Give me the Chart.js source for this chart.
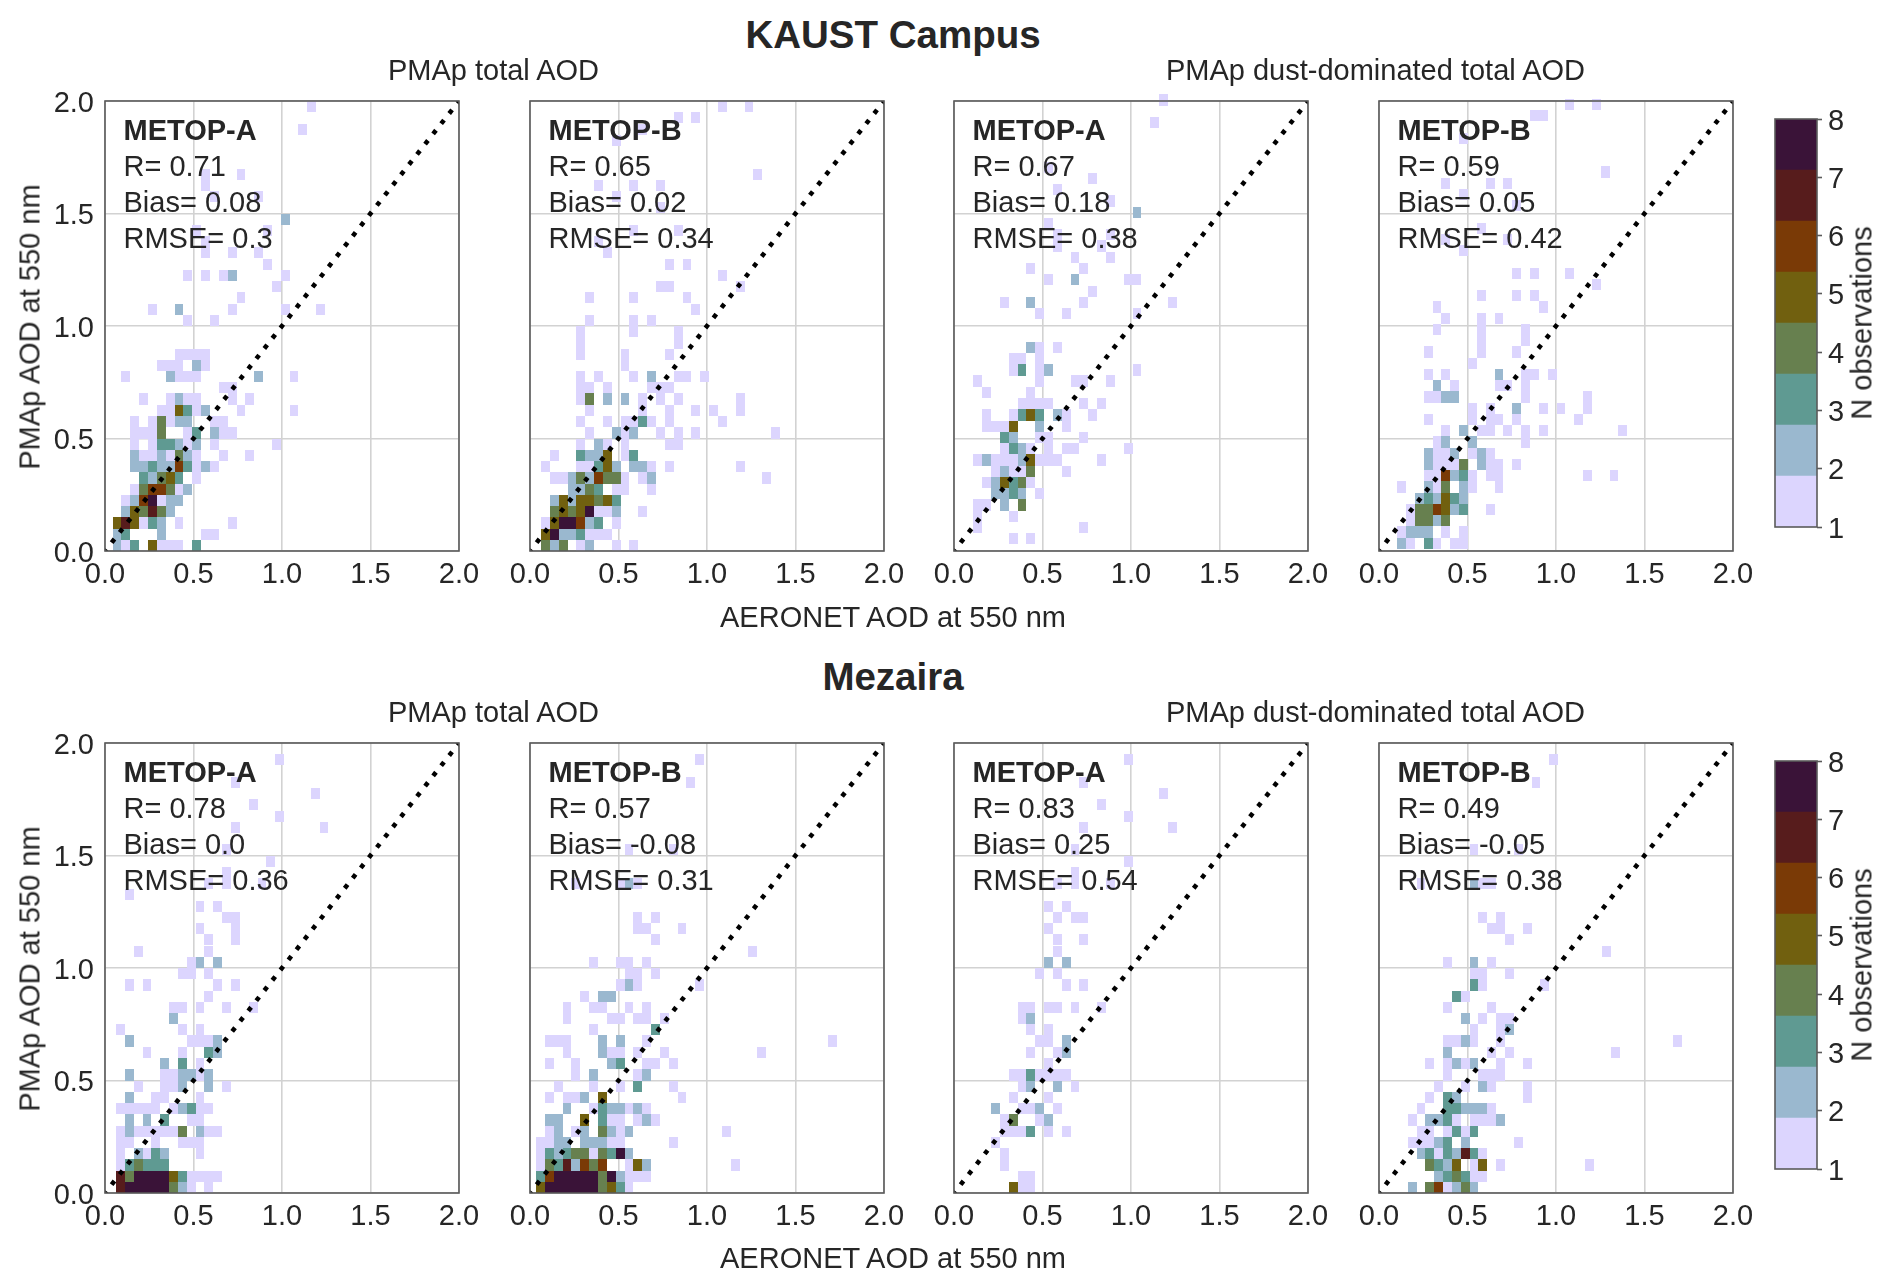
<!DOCTYPE html>
<html><head><meta charset="utf-8">
<script src="https://cdn.jsdelivr.net/npm/chart.js@4"></script>
<style>
html,body{margin:0;padding:0;background:#fff;width:1892px;height:1287px;overflow:hidden}
canvas{position:absolute}
.t{position:absolute;white-space:nowrap;color:#262626;font-family:"Liberation Sans",Arial,sans-serif;line-height:1}
</style></head><body>
<script>
// Histogram rows: array index = row (bottom to top), each row = column,count,column,count...
const kaustTotalA=[[0,2,1,1,2,3,4,5,5,1,6,1,7,1,9,3],[0,2,1,3,5,2,10,1,11,1],[0,5,1,7,2,5,3,1,4,3,5,2,7,1,13,1],[1,2,2,5,3,4,4,7,5,4,6,2],[1,1,2,2,3,6,4,8,5,1,6,2,7,2],[2,1,3,4,4,6,5,6,6,4,7,1,8,2],[3,3,4,2,5,4,6,5,7,3,9,1],[2,2,3,2,4,3,5,2,6,2,7,6,8,3,9,1,10,2,11,1],[2,2,3,1,4,1,5,2,6,1,7,4,8,2,9,1,12,1,15,1],[2,1,4,1,5,3,6,3,7,2,8,1,9,2,11,1,18,1],[2,1,3,1,4,1,5,4,8,1,9,3,11,2,12,1,13,1],[2,1,4,1,5,4,6,1,7,2,8,2,11,1,12,1],[5,1,6,1,7,5,8,3,9,1,10,2,14,1,20,1],[3,1,6,1,7,2,8,1,9,1,13,1,15,1],[12,1,13,1],[1,1,6,2,7,1,8,1,9,1,16,2,20,1],[5,1,6,1,7,1,9,2,10,1],[7,1,8,1,9,1,10,1],[],[],[8,1,11,1],[4,1,7,2,13,1,19,1,23,1],[14,1],[18,1],[8,1,10,1,12,1,13,2,19,1],[17,1],[10,1,13,1,16,1],[10,1],[9,1,17,1],[19,2],[],[11,1,16,1],[10,1],[10,1,14,1],[],[],[],[21,1],[],[22,1]];
const kaustTotalB=[[0,4,1,2,2,4,4,1,5,2,8,1,10,1],[0,5,1,8,2,2,3,2,4,3,5,1,6,1,7,1],[0,1,1,5,2,8,3,8,4,6,5,2,6,3,8,1],[1,4,2,5,3,4,4,5,5,8,6,1,7,1,8,2,11,1],[1,2,2,5,3,2,4,5,5,5,6,4,7,5,8,3],[3,2,4,2,5,4,6,3,8,1,9,1,12,1],[1,1,2,1,3,2,4,4,5,2,6,6,7,4,8,4,9,1,11,1,12,2,25,1],[0,1,4,1,5,1,6,3,7,5,8,2,10,2,11,2,12,1,14,1,22,1],[1,1,4,3,5,2,6,2,7,5,9,1,10,3],[4,1,6,2,7,1,9,1,14,1,15,1],[5,1,8,2,9,1,10,2,13,1,15,1,17,1,26,1],[4,1,7,1,9,1,10,1,11,3,12,1,14,1,20,1],[5,1,11,1,14,1,17,1,19,1,22,1],[4,1,5,4,7,2,9,2,11,1,13,1,15,1,22,1],[4,1,5,1,7,1,12,1,13,1,14,1],[4,1,6,1,10,1,12,2,15,1,16,1,18,1],[9,1],[4,1,9,1,14,1],[4,1,15,1],[4,1,10,1,15,1],[5,1,10,1,12,1],[17,1],[5,1,10,1,16,1],[13,1,14,1,22,1],[20,1],[14,1,16,1],[7,1],[6,1],[10,1,15,1],[],[13,1],[8,1],[6,1,10,1,13,1],[24,1],[],[],[8,1],[11,1],[15,1,17,1],[20,1,23,1]];
const kaustDustA=[[4,1,6,1],[0,1,12,1],[0,1,4,1],[0,1,1,1,3,2,5,4],[2,2,3,2,4,3,5,2,7,1],[1,1,2,2,3,5,4,3,5,4,6,1],[2,1,3,2,4,1,5,1,6,4,10,1],[0,1,1,2,2,1,3,1,4,1,5,2,6,5,7,1,8,1,9,1,14,1],[3,1,4,3,5,2,6,1,8,1,10,1,11,1,17,1],[3,3,4,2,7,1,8,1,12,1],[1,1,2,1,3,1,4,5,7,2,10,1],[1,1,4,1,5,3,6,5,7,3,9,2,10,1,13,1],[5,1,6,1,7,1,8,1,12,1,14,1],[1,1,6,1],[0,1,7,1,11,1,12,1,15,1],[4,1,5,3,7,1,8,2,18,1],[4,1,5,1,7,1],[6,2,7,1,9,1],[],[],[7,1,10,1,18,1],[3,1,6,2,12,1,22,1],[13,1],[8,1,11,2,17,1,18,1],[6,1,12,1],[11,1,15,1],[9,1,14,1],[9,1,15,1],[8,1],[18,2],[15,1],[9,1],[13,1],[8,1],[],[],[],[20,1],[],[21,1]];
const kaustDustB=[[0,2,1,1,3,3,4,1,6,1,7,1],[0,1,1,2,2,2,3,2,5,1,7,1],[1,1,2,4,3,4,4,2,5,4],[1,1,2,4,3,4,4,6,5,5,6,2,7,3,10,1],[2,2,3,3,4,2,5,5,6,3,7,2],[0,1,3,2,4,1,5,4,7,2,8,1,11,1],[3,1,4,1,5,6,6,2,7,3,8,1,10,1,11,1,21,1,24,1],[3,2,4,1,5,1,6,1,7,4,9,2,10,1,11,1,13,1],[3,2,4,1,5,1,6,2,8,1,9,2,10,1],[4,1,5,2,8,2,14,1],[5,1,7,2,9,1,10,1,12,1,14,1,16,1,25,1],[3,1,8,1,10,1,11,1,13,1,20,1],[8,1,10,1,13,2,16,1,18,1,21,1],[3,1,4,1,5,2,6,2,14,1,21,1],[4,2,6,1,11,1,12,1,14,1],[3,1,5,1,11,2,14,1,15,1,17,1],[8,1],[3,1,9,1,13,1],[9,1,14,1],[4,1,9,1,14,1],[5,1,9,1,11,1],[4,1,16,1],[9,1,13,1,15,1],[22,1],[13,1,15,1,19,1],[],[7,1],[5,1,12,1],[9,1],[],[13,1],[7,1],[5,1,10,1,12,1],[23,1],[],[],[7,1],[],[15,1,16,1],[19,1,22,1]];
const mezairaTotalA=[[0,7,1,8,2,8,3,8,4,8,5,8,6,4,7,2,8,1,10,1],[0,7,1,4,2,8,3,8,4,8,5,8,6,5,7,3,8,1,9,1,10,1,11,1],[0,1,1,3,2,4,3,3,4,3,5,3],[0,1,2,2,3,1,4,3,5,2,9,1],[0,1,1,1,4,1,7,1,8,1,9,1],[0,1,1,2,2,1,3,1,4,1,5,1,6,1,7,4,9,2,10,1,11,1],[1,2,3,2,5,3,8,1,9,1],[0,1,1,1,2,1,3,1,4,1,6,1,7,2,8,3,9,1,10,1],[1,2,4,1,5,1,9,1],[2,1,5,1,6,1,7,2,10,2,12,1],[1,2,5,1,6,1,7,2,8,2,9,1,10,2],[5,2,7,3,9,1],[3,1,7,1,10,3,11,2],[1,2,8,1,9,1,10,1,11,2],[0,1,7,1,9,1],[6,2],[6,1,7,1,9,1,12,1,15,1],[10,1],[1,1,3,1,11,1,13,1],[7,1,8,1,10,1],[8,1,9,2,11,2],[2,1,10,1],[10,1,13,1],[9,1,13,1],[12,1,13,1],[9,1,11,1],[1,1],[10,1,12,1,16,1],[12,1],[17,1],[12,1],[],[13,1,23,1],[18,1],[15,1],[22,1],[13,1],[],[18,1]];
const mezairaTotalB=[[0,5,1,8,2,8,3,8,4,8,5,8,6,8,7,4,8,5,9,3,10,1],[0,3,1,6,2,8,3,8,4,8,5,8,6,8,7,4,8,8,9,2,10,1,11,1,12,1],[0,1,1,4,2,3,3,7,4,2,5,6,6,4,7,6,10,1,11,5,12,2,22,1],[0,1,1,3,2,2,3,3,4,4,5,4,6,1,7,4,8,3,9,8,10,2],[0,1,1,1,2,2,3,2,5,2,6,2,7,2,8,1,9,1,15,1],[1,1,2,2,4,1,5,2,7,4,8,2,9,1,10,2,21,1],[1,2,2,2,5,5,7,3,8,1,9,1,11,1,12,2,13,1],[3,2,6,1,7,3,8,2,9,2,10,1,11,2,12,1],[1,1,3,1,4,1,5,2,7,5,16,1],[2,1,6,1,9,1,11,3,15,1],[4,1,6,2,11,1,12,2],[1,1,4,1,8,2,9,3,12,1,13,1,15,1],[3,1,7,2,8,1,9,1,11,1,14,1,25,1],[1,1,2,1,3,1,7,2,9,2,12,1,33,1],[6,1,13,3],[3,1,8,1,9,1,11,1,12,1,14,1],[3,1,6,1,7,1,10,1,12,1],[5,1,7,2,8,2],[9,1,10,2,11,1,18,1],[10,1,11,1,13,1],[6,1,9,1,10,1,12,1],[24,1],[13,1],[11,1,12,1,16,1],[11,1,13,1],[],[],[4,1,9,1,10,2,11,1],[],[],[10,1,15,1],[],[],[],[],[],[17,1],[],[18,1]];
const mezairaDustA=[[4,5,5,1,6,1],[5,1,6,1],[3,1],[3,1],[2,1],[3,1,4,1,5,1,6,3,8,1,10,1],[3,1,4,4,7,1,8,2],[2,2,5,1,6,1,7,2,9,1],[4,1,8,1],[5,1,6,2,9,2,11,1],[4,1,5,1,6,3,7,1,8,1,9,1,10,1],[8,1],[6,1,9,1,10,2],[7,1,8,1,10,2],[6,1,8,1],[5,1,6,2],[5,1,6,1,8,1,9,1,11,1,14,1],[],[10,1,12,1],[7,1,9,1],[8,2,10,2],[9,1],[9,1,12,1],[8,1],[9,1,11,1,12,1],[8,1,10,1],[],[9,1,11,1,15,1],[11,1],[17,1],[11,1],[],[12,1,22,1],[17,1],[14,1],[21,1],[12,1],[],[17,1]];
const mezairaDustB=[[0,2,2,4,3,6,4,1,5,2,6,4,7,2],[3,2,4,3,5,4,6,3,7,1,8,1],[2,4,3,3,4,2,5,5,7,1,8,5,10,1,20,1],[1,2,2,3,3,1,4,3,5,2,6,7,7,3,8,1],[0,1,1,1,2,1,3,2,4,3,6,2,12,1],[1,1,2,1,4,1,5,3,6,1,7,3],[0,1,2,2,3,2,4,3,5,1,7,1,8,1,9,1,10,2],[1,1,4,3,5,3,6,2,7,2,8,2,9,1],[2,1,4,3,5,2,13,1],[3,1,6,1,8,2,9,1,13,1],[4,1,8,1,9,1,10,1],[2,1,4,1,5,2,6,1,7,2,10,1,13,1],[4,2,9,1,11,1,23,1],[4,1,5,1,6,2,7,1,10,1,30,1],[7,1,10,1,11,2],[6,2,8,1,10,1,11,1],[4,1,9,1],[5,3,6,1],[7,3,8,1,15,1],[7,1,8,1,11,1],[4,1,7,2,9,1],[22,1],[11,1],[9,1,10,1,13,1],[8,1,10,1],[],[],[1,1,7,2,8,1,9,1],[],[],[7,1,12,1],[],[],[],[],[],[14,1],[],[16,1]];

const panelRows=[kaustTotalA,kaustTotalB,kaustDustA,kaustDustB,mezairaTotalA,mezairaTotalB,mezairaDustA,mezairaDustB];
const binSize=0.05;
const xBinOrigin=[0.043,0.062,0.109,0.103,0.062,0.034,0.109,0.162];
const yBinOrigin=[0,0,0.03,0.009,0,0,0,0];
const axisTicks=[0,0.5,1,1.5,2];
const diagonal=[{x:0,y:0},{x:2,y:2}];
const satellites=['METOP-A','METOP-B','METOP-A','METOP-B','METOP-A','METOP-B','METOP-A','METOP-B'];
const rValues=['0.71','0.65','0.67','0.59','0.78','0.57','0.83','0.49'];
const biasValues=['0.08','0.02','0.18','0.05','0.0','-0.08','0.25','-0.05'];
const rmseValues=['0.3','0.34','0.38','0.42','0.36','0.31','0.54','0.38'];
const levelColors=['#dcd5fe','#9ab8cf','#5f9a92','#67804f','#71600f','#7a3a06','#571c1c','#3a1338'];
const colorbarEdges=[1,1.875,2.75,3.625,4.5,5.375,6.25,7.125,8];
const colorbarTicks=[1,2,3,4,5,6,7,8];

const FONT='"Liberation Sans",Arial,sans-serif', INK='#262626', SPINE='#5a5a5a', GRID='#d2d2d2';
const FS=29;
const plotLeft=[105,530,954,1379], plotTop=[101,743], plotW=354, plotH=450;

Chart.defaults.font.family=FONT;
Chart.defaults.color=INK;

class HeatController extends Chart.ScatterController{
  draw(){
    const meta=this.getMeta(), ctx=this.chart.ctx, xs=meta.xScale, ys=meta.yScale, h=binSize/2;
    ctx.save();
    ctx.fillStyle=this.getDataset().backgroundColor;
    this.getDataset().data.forEach(p=>{
      const l=Math.round(xs.getPixelForValue(p.x-h)), r=Math.round(xs.getPixelForValue(p.x+h));
      const t=Math.round(ys.getPixelForValue(p.y+h)), b=Math.round(ys.getPixelForValue(p.y-h));
      ctx.fillRect(l,t,r-l,b-t);
    });
    ctx.restore();
  }
}
HeatController.id='heat';
HeatController.defaults=Chart.ScatterController.defaults;
Chart.register(HeatController);

const framePlugin={id:'frame',afterDraw(c){
  const a=c.chartArea,x=c.ctx;x.save();x.strokeStyle=SPINE;x.lineWidth=1.6;
  x.strokeRect(a.left,a.top,a.right-a.left,a.bottom-a.top);x.restore();}};

function text(s,cx,cy,size,opts={}){
  const d=document.createElement('div');d.className='t';d.textContent=s;
  d.style.left=cx+'px';d.style.top=cy+'px';d.style.fontSize=size+'px';
  if(opts.bold)d.style.fontWeight='bold';
  d.style.transform=(opts.left?'translate(0,-50%)':'translate(-50%,-50%)')+(opts.rot?' rotate(-90deg)':'');
  document.body.appendChild(d);
}
function makeCanvas(l,t,w,h){
  const c=document.createElement('canvas');c.width=w;c.height=h;
  c.style.left=l+'px';c.style.top=t+'px';c.style.width=w+'px';c.style.height=h+'px';
  document.body.appendChild(c);return c;
}
function cellsFor(p,level){
  const out=[];
  panelRows[p].forEach((row,r)=>{
    for(let i=0;i<row.length;i+=2){
      if(row[i+1]===level) out.push({x:xBinOrigin[p]+(row[i]+0.5)*binSize,y:yBinOrigin[p]+(r+0.5)*binSize,n:level});
    }
  });
  return out;
}
function panel(p){
  const col=p%4,rowI=p<4?0:1,ML=90,MT=30,MR=40,MB=50;
  const cv=makeCanvas(plotLeft[col]-ML,plotTop[rowI]-MT,plotW+ML+MR,plotH+MT+MB);
  const datasets=[{type:'scatter',label:'1:1',data:diagonal,showLine:true,pointRadius:0,borderColor:'#000',borderWidth:4.6,borderDash:[4.6,8.4],borderDashOffset:2.3,backgroundColor:'#000'}];
  levelColors.forEach((colr,i)=>datasets.push({type:'heat',label:'N='+(i+1),data:cellsFor(p,i+1),backgroundColor:colr,pointRadius:0}));
  new Chart(cv,{type:'scatter',data:{datasets},plugins:[framePlugin],options:{
    responsive:false,animation:false,devicePixelRatio:1,
    layout:{padding:{top:MT,right:MR,left:0,bottom:0}},
    plugins:{legend:{display:false},title:{display:false},tooltip:{enabled:false}},
    scales:{
      x:{type:'linear',min:0,max:2,afterFit:s=>{s.height=MB},afterBuildTicks:s=>{s.ticks=axisTicks.map(v=>({value:v}))},
        border:{display:false},grid:{color:GRID,lineWidth:1.6,drawTicks:false},
        ticks:{padding:7,maxRotation:0,color:INK,font:{size:FS,family:FONT},callback:v=>v.toFixed(1)}},
      y:{type:'linear',min:0,max:2,afterFit:s=>{s.width=ML},afterBuildTicks:s=>{s.ticks=axisTicks.map(v=>({value:v}))},
        border:{display:false},grid:{color:GRID,lineWidth:1.6,drawTicks:false},
        ticks:{display:col===0,padding:11,labelOffset:2.5,color:INK,font:{size:FS,family:FONT},callback:v=>v.toFixed(1)}}
    }}});
  const L=plotLeft[col]+18.5,T=plotTop[rowI];
  text(satellites[p],L,T+29,FS,{left:true,bold:true});
  text('R= '+rValues[p],L,T+65,FS,{left:true});
  text('Bias= '+biasValues[p],L,T+101,FS,{left:true});
  text('RMSE= '+rmseValues[p],L,T+137,FS,{left:true});
}
function colorbar(top){
  const cv=makeCanvas(1773,top-30,2+42+75,408+60);
  const datasets=levelColors.map((c,i)=>({label:'N='+(i+1),data:[[colorbarEdges[i],colorbarEdges[i+1]]],backgroundColor:c,barPercentage:1,categoryPercentage:1,grouped:false}));
  new Chart(cv,{type:'bar',data:{labels:['N'],datasets},plugins:[framePlugin],options:{
    responsive:false,animation:false,devicePixelRatio:1,
    layout:{padding:{top:30,bottom:30,left:2,right:0}},
    plugins:{legend:{display:false},tooltip:{enabled:false}},
    scales:{
      x:{display:false,grid:{display:false},offset:true},
      y:{position:'right',type:'linear',min:1,max:8,afterFit:s=>{s.width=75},afterBuildTicks:s=>{s.ticks=colorbarTicks.map(v=>({value:v}))},
        border:{display:false},grid:{drawOnChartArea:false,drawTicks:true,tickLength:5,tickColor:SPINE,tickWidth:1.6},
        ticks:{padding:6,labelOffset:2.5,color:INK,font:{size:FS,family:FONT},callback:v=>String(v)}}
    }}});
}
for(let p=0;p<8;p++)panel(p);
colorbar(119);colorbar(761);
const CX=893;
text('KAUST Campus',CX,35,38.5,{bold:true});
text('Mezaira',CX,677,38.5,{bold:true});
[70,712].forEach(y=>{text('PMAp total AOD',493.5,y,FS);text('PMAp dust-dominated total AOD',1375.5,y,FS);});
text('AERONET AOD at 550 nm',CX,617,FS);text('AERONET AOD at 550 nm',CX,1258,FS);
text('PMAp AOD at 550 nm',30,327,FS,{rot:true});text('PMAp AOD at 550 nm',30,969,FS,{rot:true});
text('N observations',1862,323,FS,{rot:true});text('N observations',1862,965,FS,{rot:true});
</script>
</body></html>
